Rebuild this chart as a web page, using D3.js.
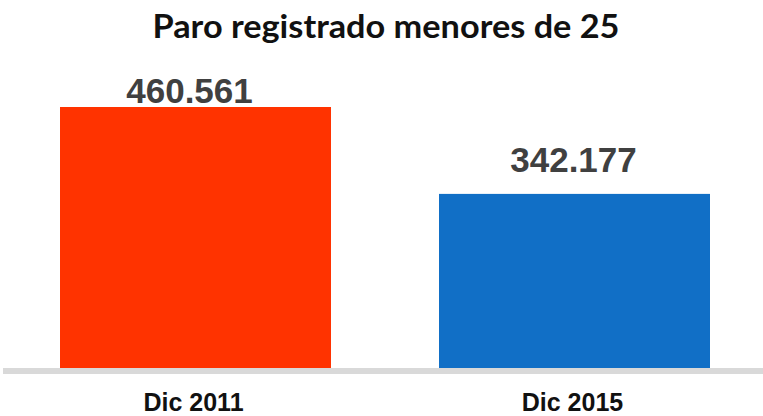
<!DOCTYPE html>
<html>
<head>
<meta charset="utf-8">
<script src="https://cdn.jsdelivr.net/npm/d3@7"></script>
<style>
  html, body { margin: 0; padding: 0; background: #fff; }
  svg { display: block; }
</style>
</head>
<body>
<svg id="chart" width="763" height="416"></svg>
<script>
const title = "Paro registrado menores de 25";
const categories = ["Dic 2011", "Dic 2015"];
const values = [460561, 342177];
const valueLabels = ["460.561", "342.177"];
const barColors = ["#FF3300", "#116FC6"];
const yMin = 105000;

const svg = d3.select("#chart");
const W = 763, H = 416;

const x = d3.scaleBand()
  .domain(categories)
  .range([6, 764])
  .paddingInner(0.285)
  .paddingOuter(0.1425);

const y = d3.scaleLinear()
  .domain([yMin, d3.max(values)])
  .range([368, 107]);

// title
svg.append("text")
  .attr("x", 386)
  .attr("y", 37.5)
  .attr("text-anchor", "middle")
  .attr("font-family", "Lato, 'Open Sans', sans-serif")
  .attr("font-weight", "bold")
  .attr("font-size", 32)
  .attr("fill", "#111")
  .attr("textLength", 467)
  .attr("lengthAdjust", "spacingAndGlyphs")
  .text(title);

// bars
svg.selectAll("rect.bar")
  .data(values)
  .join("rect")
  .attr("class", "bar")
  .attr("x", (d, i) => x(categories[i]))
  .attr("width", x.bandwidth())
  .attr("y", d => y(d))
  .attr("height", d => y.range()[0] - y(d))
  .attr("fill", (d, i) => barColors[i]);

// axis baseline
svg.append("rect")
  .attr("x", 3)
  .attr("y", 368)
  .attr("width", W - 3)
  .attr("height", 6)
  .attr("fill", "#D9D9D9");

// value labels (the top one is pushed down and slightly left to stay inside the plot)
svg.selectAll("text.val")
  .data(values)
  .join("text")
  .attr("class", "val")
  .attr("x", (d, i) => x(categories[i]) + x.bandwidth() / 2 - 1 - (y(d) - 22 < 103 ? 5 : 0))
  .attr("y", d => Math.max(y(d) - 22, 103))
  .attr("text-anchor", "middle")
  .attr("font-family", "'Liberation Sans', Arial, sans-serif")
  .attr("font-weight", "bold")
  .attr("font-size", 35)
  .attr("fill", "#404040")
  .text((d, i) => valueLabels[i]);

// category labels
svg.selectAll("text.cat")
  .data(categories)
  .join("text")
  .attr("class", "cat")
  .attr("x", d => x(d) + x.bandwidth() / 2 - 2)
  .attr("y", 411)
  .attr("text-anchor", "middle")
  .attr("font-family", "'Liberation Sans', Arial, sans-serif")
  .attr("font-weight", "bold")
  .attr("font-size", 25)
  .attr("fill", "#111")
  .text(d => d);
</script>
</body>
</html>
